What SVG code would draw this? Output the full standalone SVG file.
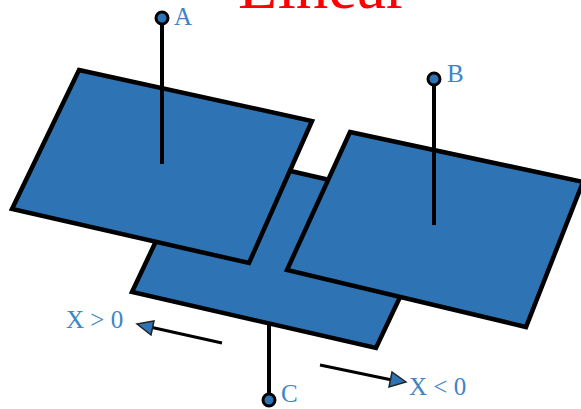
<svg xmlns="http://www.w3.org/2000/svg" width="581" height="409" viewBox="0 0 581 409">
<style>
.plate{fill:#2e74b5;stroke:#000;stroke-width:4.5;stroke-linejoin:miter}
.rod{fill:none;stroke:#000;stroke-width:4}
.end{fill:#2e74b5;stroke:#000;stroke-width:3}
.lbl{font-family:"Liberation Serif",serif;font-size:25px;fill:#3d85c6}
.arr{fill:none;stroke:#000;stroke-width:3}
.head{fill:#2e74b5;stroke:#222;stroke-width:1.5;stroke-linejoin:miter}
</style>
<rect width="581" height="409" fill="#fff"/>
<g id="title"><text x="238" y="8" font-family="'Liberation Serif',serif" font-size="65" fill="#f00">Linear</text></g>
<g id="plate-c">
<polygon class="plate" points="199,150 443,206 376,348 132,292"/>
<line class="rod" x1="269" y1="322" x2="269" y2="394"/>
<circle class="end" cx="269" cy="400" r="6"/>
<text class="lbl" x="281" y="402">C</text>
</g>
<g id="plate-a">
<polygon class="plate" points="79,70 312,121 249,263 12,209"/>
<line class="rod" x1="162" y1="24" x2="162" y2="164"/>
<circle class="end" cx="162" cy="18" r="6"/>
<text class="lbl" x="174" y="25">A</text>
</g>
<g id="plate-b">
<polygon class="plate" points="350,132 583,182 526,327 287,270"/>
<line class="rod" x1="434" y1="85" x2="434" y2="225"/>
<circle class="end" cx="434" cy="79" r="6"/>
<text class="lbl" x="447" y="82">B</text>
</g>
<g id="connectors">
<line class="arr" x1="222" y1="343" x2="150" y2="327"/>
<polygon class="head" points="137,324 154,321 151,335"/>
<line class="arr" x1="320" y1="365" x2="392" y2="380"/>
<polygon class="head" points="406,382 392,372 389,387"/>
</g>
<g id="labels">
<text class="lbl" x="66" y="328">X &gt; 0</text>
<text class="lbl" x="409" y="395">X &lt; 0</text>
</g>
</svg>
